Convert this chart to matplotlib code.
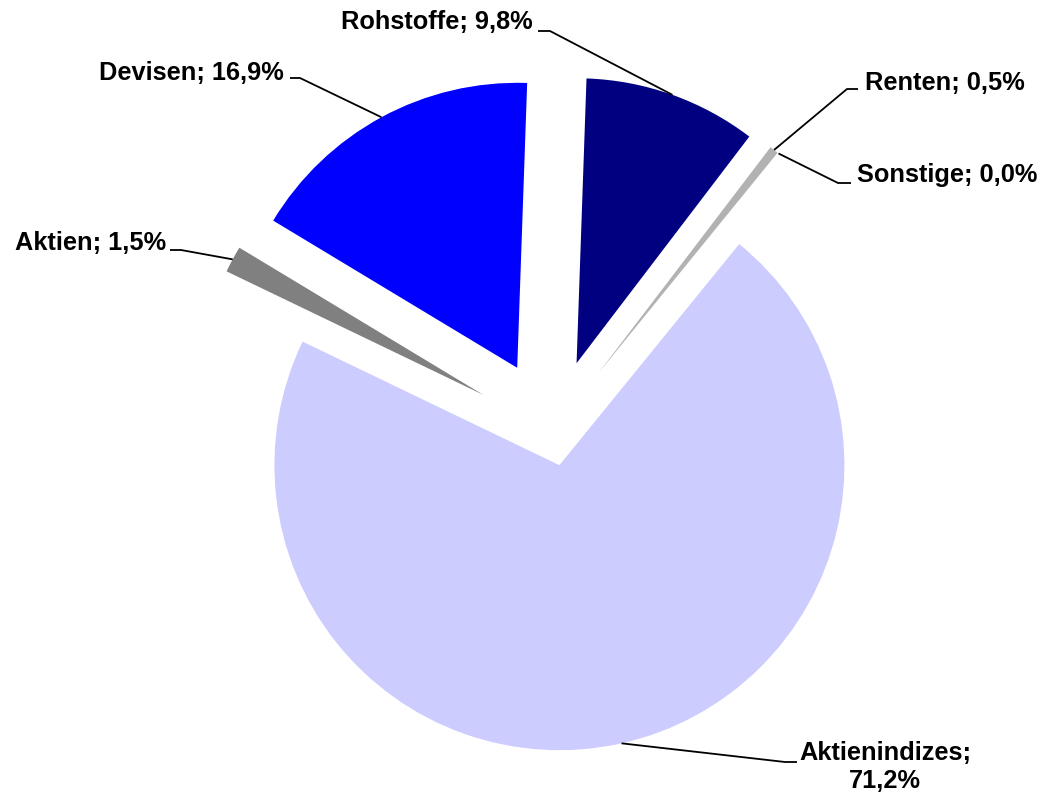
import math
import matplotlib.pyplot as plt

# data, clockwise from the top
categories = ['Rohstoffe', 'Renten', 'Sonstige', 'Aktienindizes', 'Aktien', 'Devisen']
shares = [9.8, 0.5, 0.0, 71.2, 1.5, 16.9]
labels = ['Rohstoffe; 9,8%', 'Renten; 0,5%', 'Sonstige; 0,0%',
          'Aktienindizes;\n71,2%', 'Aktien; 1,5%', 'Devisen; 16,9%']
colors = ['#000080', '#B2B2B2', '#FFFFFF', '#CCCCFF', '#808080', '#0000FF']

# explode in pixel units (axes are laid out in pixels)
explode = [73, 74, 74, 34, 78, 73]

# label layout: text x, text y (from top), alignment, elbow point, segment end
label_layout = [
    (533, 22, 'right', (550, 31), (538, 31)),
    (865, 83, 'left', (847, 89), (858, 89)),
    (857, 175, 'left', (838, 183), (851, 183)),
    (885, 767, 'center', (785, 762), (797, 762)),
    (166, 243, 'right', (181, 250), (170, 250)),
    (284, 73, 'right', (300, 78), (290, 78)),
]

W, H = 1050, 797
fig = plt.figure(figsize=(W / 100, H / 100), dpi=100)
ax = fig.add_axes([0, 0, 1, 1])

wedges, _ = ax.pie(shares, colors=colors, explode=explode, startangle=88,
                   counterclock=False, radius=285, center=(552, H - 432),
                   wedgeprops=dict(linewidth=0))
ax.set_xlim(0, W)
ax.set_ylim(0, H)
ax.set_aspect('equal')
ax.axis('off')

for w, lab, (tx, ty, ha, elbow, end) in zip(wedges, labels, label_layout):
    mid = math.radians((w.theta1 + w.theta2) / 2)
    cx, cy = w.center
    ax_pt = (cx + w.r * math.cos(mid), cy + w.r * math.sin(mid))
    xs = [ax_pt[0], elbow[0], end[0]]
    ys = [ax_pt[1], H - elbow[1], H - end[1]]
    ax.plot(xs, ys, color='black', lw=1.3, solid_capstyle='butt')
    ax.text(tx, H - ty, lab, ha=ha, va='center', fontsize=18.3,
            fontweight='bold', family='Liberation Sans', linespacing=1.25)

fig.savefig('out.png', dpi=100, facecolor='white')
